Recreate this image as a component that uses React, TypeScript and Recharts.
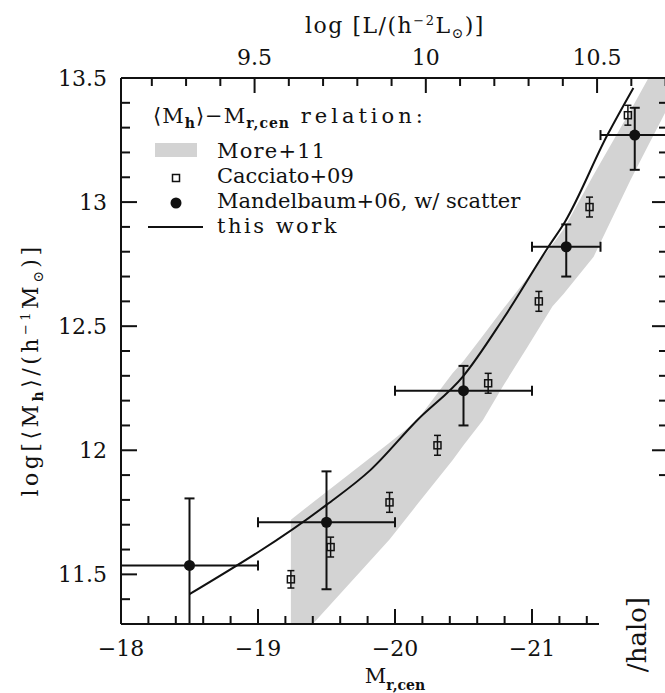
import React from 'react';
import { ComposedChart, XAxis, YAxis, Area, Line, Scatter, ErrorBar } from 'recharts';

// ---- data ----
// More+11 band: M_r,cen, lower and upper log<Mh>
const bandM = [-19.24, -19.40, -19.96, -20.16, -20.42, -20.50, -20.64, -20.79, -20.96, -21.15, -21.23, -21.45, -21.72, -21.85, -22.0];
const bandLow = [11.20, 11.30, 11.64, 11.78, 11.96, 12.02, 12.12, 12.26, 12.41, 12.58, 12.63, 12.78, 13.09, 13.23, 13.39];
const bandHigh = [11.72, 11.79, 12.03, 12.12, 12.31, 12.36, 12.46, 12.57, 12.69, 12.83, 12.89, 13.11, 13.37, 13.50, 13.65];

// Cacciato+09
const cacciatoM = [-19.24, -19.53, -19.96, -20.31, -20.68, -21.05, -21.42, -21.70];
const cacciatoLogMh = [11.48, 11.61, 11.79, 12.02, 12.27, 12.60, 12.98, 13.35];
const cacciatoErr = [0.035, 0.04, 0.04, 0.04, 0.04, 0.04, 0.04, 0.04];

// Mandelbaum+06, w/ scatter
const mandelM = [-18.5, -19.5, -20.5, -21.25, -21.75];
const mandelLogMh = [11.536, 11.71, 12.24, 12.82, 13.27];
const mandelErrLow = [0.236, 0.27, 0.14, 0.12, 0.14];
const mandelErrHigh = [0.27, 0.205, 0.10, 0.09, 0.11];
const mandelXErr = [0.5, 0.5, 0.5, 0.25, 0.25];

// this work
const thisWorkM = [-18.5, -19.5, -19.82, -20.16, -20.5, -20.79, -21.12, -21.24, -21.55, -21.74];
const thisWorkLogMh = [11.42, 11.78, 11.92, 12.12, 12.30, 12.53, 12.82, 12.92, 13.27, 13.46];

// ticks
const xTicks = [-18, -18.2, -18.4, -18.6, -18.8, -19, -19.2, -19.4, -19.6, -19.8, -20, -20.2, -20.4, -20.6, -20.8, -21, -21.2, -21.4, -21.6, -21.8];
const xMajor = [-18, -19, -20, -21];
const xLabels = ['−18', '−19', '−20', '−21'];
const yTicks = [11.4, 11.5, 11.6, 11.7, 11.8, 11.9, 12, 12.1, 12.2, 12.3, 12.4, 12.5, 12.6, 12.7, 12.8, 12.9, 13, 13.1, 13.2, 13.3, 13.4, 13.5];
const yMajor = [11.5, 12, 12.5, 13, 13.5];
const yLabels = ['11.5', '12', '12.5', '13', '13.5'];
const topLogL = [9.2, 9.3, 9.4, 9.5, 9.6, 9.7, 9.8, 9.9, 10, 10.1, 10.2, 10.3, 10.4, 10.5, 10.6, 10.7];
const topMajor = [9.5, 10, 10.5];
const topLabels = ['9.5', '10', '10.5'];
const magZero = 1.91; // log L = magZero - 0.4 M

const FONT = 'DejaVu Serif';
const INK = '#111';

const bandData = bandM.map((m, i) => ({ x: m, range: [bandLow[i], bandHigh[i]] }));
const cacciatoData = cacciatoM.map((m, i) => ({ x: m, y: cacciatoLogMh[i], ey: cacciatoErr[i] }));
const mandelData = mandelM.map((m, i) => ({ x: m, y: mandelLogMh[i], ey: [mandelErrLow[i], mandelErrHigh[i]], ex: mandelXErr[i] }));
const lineData = thisWorkM.map((m, i) => ({ x: m, y: thisWorkLogMh[i] }));
const topTickM = topLogL.map((l) => (magZero - l) / 0.4);

const near = (a: number, b: number) => Math.abs(a - b) < 1e-6;
const findIdx = (arr: number[], v: number) => arr.findIndex((a) => near(a, v));

const BottomTick = (props: any) => {
  const { x, y, payload } = props;
  const idx = findIdx(xMajor, payload.value);
  const major = idx >= 0;
  return (
    <g>
      <line x1={x} x2={x} y1={y} y2={y - (major ? 15 : 8)} stroke={INK} strokeWidth={2} />
      {major && (
        <text x={x} y={y + 32} textAnchor="middle" fontFamily={FONT} fontSize={22} fill={INK}>
          {xLabels[idx]}
        </text>
      )}
    </g>
  );
};

const TopTick = (props: any) => {
  const { x, y, payload } = props;
  const li = topTickM.findIndex((m) => near(m, payload.value));
  const logL = topLogL[li];
  const idx = findIdx(topMajor, logL);
  const major = idx >= 0;
  return (
    <g>
      <line x1={x} x2={x} y1={y} y2={y + (major ? 15 : 8)} stroke={INK} strokeWidth={2} />
      {major && (
        <text x={x} y={y - 13} textAnchor="middle" fontFamily={FONT} fontSize={22} fill={INK}>
          {topLabels[idx]}
        </text>
      )}
    </g>
  );
};

const LeftTick = (props: any) => {
  const { x, y, payload } = props;
  const idx = findIdx(yMajor, payload.value);
  const major = idx >= 0;
  return (
    <g>
      <line x1={x} x2={x + (major ? 16 : 9)} y1={y} y2={y} stroke={INK} strokeWidth={2} />
      {major && (
        <text x={x - 14} y={y} dy="0.36em" textAnchor="end" fontFamily={FONT} fontSize={22} fill={INK}>
          {yLabels[idx]}
        </text>
      )}
    </g>
  );
};

const RightTick = (props: any) => {
  const { x, y, payload } = props;
  const major = findIdx(yMajor, payload.value) >= 0;
  return <line x1={x} x2={x - (major ? 17 : 10)} y1={y} y2={y} stroke={INK} strokeWidth={2} />;
};

const OpenSquare = (props: any) => {
  const { cx, cy } = props;
  if (cx == null || cy == null) return null;
  return <rect x={cx - 3.5} y={cy - 3.5} width={7} height={7} fill="none" stroke={INK} strokeWidth={1.5} />;
};

const FilledCircle = (props: any) => {
  const { cx, cy } = props;
  if (cx == null || cy == null) return null;
  return <circle cx={cx} cy={cy} r={5.5} fill={INK} />;
};

export default function App() {
  return (
    <div style={{ position: 'fixed', left: 0, top: 0, width: 665, height: 693, overflow: 'hidden', background: '#fff' }}>
      <ComposedChart width={680} height={693} margin={{ top: 0, right: 0, bottom: 0, left: 0 }}>
        <XAxis
          xAxisId={0}
          dataKey="x"
          type="number"
          domain={[-22, -18]}
          reversed
          allowDataOverflow
          ticks={xTicks}
          interval={0}
          tickSize={0}
          tickMargin={0}
          tickLine={false}
          tick={<BottomTick />}
          axisLine={{ stroke: INK, strokeWidth: 2 }}
          height={69}
          orientation="bottom"
        />
        <XAxis
          xAxisId="top"
          dataKey="x"
          type="number"
          domain={[-22, -18]}
          reversed
          allowDataOverflow
          ticks={topTickM}
          interval={0}
          tickSize={0}
          tickMargin={0}
          tickLine={false}
          tick={<TopTick />}
          axisLine={{ stroke: INK, strokeWidth: 2 }}
          height={78}
          orientation="top"
        />
        <YAxis
          yAxisId={0}
          type="number"
          domain={[11.3, 13.5]}
          allowDataOverflow
          ticks={yTicks}
          interval={0}
          tickSize={0}
          tickMargin={0}
          tickLine={false}
          tick={<LeftTick />}
          axisLine={{ stroke: INK, strokeWidth: 2 }}
          width={121}
          orientation="left"
        />
        <YAxis
          yAxisId="right"
          type="number"
          domain={[11.3, 13.5]}
          allowDataOverflow
          ticks={yTicks}
          interval={0}
          tickSize={0}
          tickMargin={0}
          tickLine={false}
          tick={<RightTick />}
          axisLine={{ stroke: INK, strokeWidth: 2 }}
          width={11}
          orientation="right"
        />
        <Area
          data={bandData}
          dataKey="range"
          type="linear"
          fill="#d3d3d3"
          fillOpacity={1}
          stroke="none"
          isAnimationActive={false}
          dot={false}
          activeDot={false}
        />
        <Line
          data={lineData}
          dataKey="y"
          type="monotone"
          stroke={INK}
          strokeWidth={2}
          dot={false}
          activeDot={false}
          isAnimationActive={false}
        />
        <Scatter data={cacciatoData} dataKey="y" shape={<OpenSquare />} isAnimationActive={false}>
          <ErrorBar dataKey="ey" direction="y" width={3.5} stroke={INK} strokeWidth={1.5} />
        </Scatter>
        <Scatter data={mandelData} dataKey="y" shape={<FilledCircle />} isAnimationActive={false}>
          <ErrorBar dataKey="ey" direction="y" width={5} stroke={INK} strokeWidth={2} />
          <ErrorBar dataKey="ex" direction="x" width={5} stroke={INK} strokeWidth={2} />
        </Scatter>
      </ComposedChart>

      <svg
        width={665}
        height={693}
        style={{ position: 'absolute', left: 0, top: 0, pointerEvents: 'none' }}
        fontFamily={FONT}
      >
        {/* cover from neighbouring panel */}
        <rect x={599} y={488} width={70} height={210} fill="#fff" />
        <text
          transform="translate(646,597) rotate(-90)"
          textAnchor="end"
          fontSize={26}
          fill={INK}
        >
          /halo]
        </text>

        {/* top axis title */}
        <text x={395} y={33} textAnchor="middle" fontSize={22} letterSpacing={1.5} fill={INK} style={{ whiteSpace: 'pre' }}>
          log [L/(h<tspan dy={-8} fontSize={13}>−2</tspan>
          <tspan dy={8}>L</tspan>
          <tspan dy={5} fontSize={14}>⊙</tspan>
          <tspan dy={-5}>)]</tspan>
        </text>

        {/* bottom axis title */}
        <text x={395} y={683} textAnchor="middle" fontSize={21} fill={INK}>
          M<tspan dy={7} fontSize={14} fontWeight="bold">r,cen</tspan>
        </text>

        {/* left axis title */}
        <text
          transform="translate(38,370) rotate(-90)"
          textAnchor="middle"
          fontSize={22}
          letterSpacing={3.5}
          fill={INK}
        >
          log[⟨M<tspan dy={5} fontSize={14} fontWeight="bold">h</tspan>
          <tspan dy={-5}>⟩/(h</tspan>
          <tspan dy={-8} fontSize={13}>−1</tspan>
          <tspan dy={8}>M</tspan>
          <tspan dy={5} fontSize={14}>⊙</tspan>
          <tspan dy={-5}>)]</tspan>
        </text>

        {/* legend */}
        <text x={153} y={123} fontSize={21} letterSpacing={1} fill={INK} style={{ whiteSpace: 'pre' }}>
          ⟨M<tspan dy={5} fontSize={14} fontWeight="bold">h</tspan>
          <tspan dy={-5}>⟩−M</tspan>
          <tspan dy={5} fontSize={14} fontWeight="bold">r,cen</tspan>
          <tspan dy={-5} letterSpacing={4}> relation:</tspan>
        </text>
        <rect x={155} y={143} width={42} height={14} fill="#d3d3d3" />
        <text x={217} y={158} fontSize={21} letterSpacing={1.2} fill={INK}>More+11</text>
        <rect x={172.5} y={174.5} width={7} height={7} fill="none" stroke={INK} strokeWidth={1.5} />
        <text x={217} y={183} fontSize={21} fill={INK}>Cacciato+09</text>
        <circle cx={176} cy={203} r={5.5} fill={INK} />
        <text x={217} y={208} fontSize={21} fill={INK}>Mandelbaum+06, w/ scatter</text>
        <line x1={148} x2={203} y1={227} y2={227} stroke={INK} strokeWidth={2} />
        <text x={217} y={233} fontSize={21} letterSpacing={2.5} fill={INK} style={{ whiteSpace: 'pre' }}>this work</text>
      </svg>
    </div>
  );
}
